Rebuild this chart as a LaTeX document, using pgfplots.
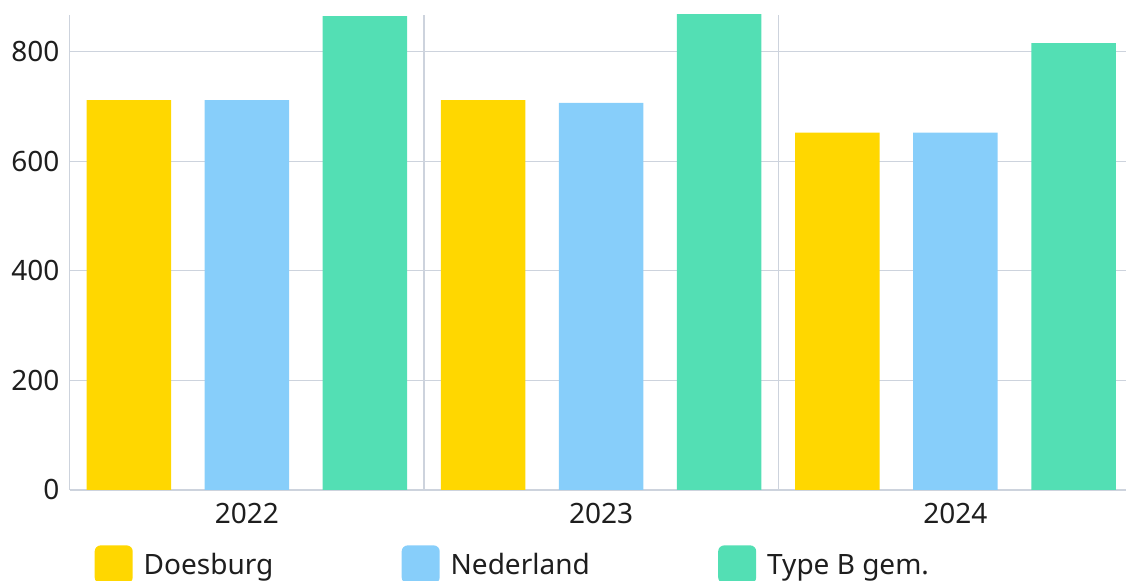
\documentclass[border=0pt]{standalone}
\usepackage{fontspec}
\setmainfont{Noto Sans}
\usepackage{pgfplots}
\pgfplotsset{compat=1.18}

\definecolor{doesburg}{HTML}{FFD700}
\definecolor{nederland}{HTML}{87CEFA}
\definecolor{typeb}{HTML}{53DFB4}
\definecolor{gridc}{HTML}{CDD3DD}
\definecolor{txt}{HTML}{1E1E1E}

\pgfplotsset{
  sq legend/.style={
    legend image code/.code={
      \fill[##1, draw=none, rounded corners=3pt] (0pt,-4.5pt) rectangle (19pt,14.5pt);
    }
  }
}

\begin{document}
\begin{tikzpicture}
\useasboundingbox (-34.85pt,-45.5pt) rectangle (528.15pt,245pt);
\clip (-34.85pt,-45.5pt) rectangle (528.15pt,245pt);
\begin{axis}[
  scale only axis,
  width=531.45pt, height=237.5pt,
  xmin=-0.5, xmax=2.5,
  ymin=0, ymax=866.8,
  enlargelimits=false,
  clip=false,
  ybar,
  bar width=0.2385,
  xtick={0,1,2},
  xticklabels={2022,2023,2024},
  minor xtick={0.5,1.5},
  ytick={0,200,400,600,800},
  ymajorgrids, xminorgrids,
  grid style={draw=gridc, line width=0.6pt},
  minor grid style={draw=gridc, line width=0.6pt},
  axis x line*=bottom,
  axis y line*=left,
  axis line style={draw=gridc, line width=0.6pt, -},
  major tick length=0pt, minor tick length=0pt,
  tick style={draw=none},
  /pgf/number format/assume math mode=true,
  tick label style={font=\fontsize{14}{16}\selectfont, text=txt},
  yticklabel style={anchor=east, inner sep=0pt, xshift=-5pt},
  xticklabel style={anchor=north, inner sep=0pt, yshift=-6.5pt},
  legend style={
    at={(0,0)}, anchor=north west,
    xshift=12.3pt, yshift=-27.5pt,
    draw=none, fill=none, inner sep=0pt,
    font=\fontsize{14}{16}\selectfont, text=txt,
    legend columns=3,
    nodes={anchor=base west, inner sep=0pt},
    /tikz/every odd column/.append style={column sep=5.5pt},
    /tikz/every even column/.append style={column sep=64.2pt},
  },
]
\addplot[fill=doesburg, draw=none, bar shift=-0.3333, sq legend]
  coordinates {(0,711.5) (1,711.5) (2,652)};
\addplot[fill=nederland, draw=none, bar shift=0, sq legend]
  coordinates {(0,711.5) (1,706.6) (2,652)};
\addplot[fill=typeb, draw=none, bar shift=0.3333, sq legend]
  coordinates {(0,864.8) (1,868.4) (2,815.5)};
\legend{Doesburg, Nederland, Type B gem.}
\end{axis}
\end{tikzpicture}
\end{document}
